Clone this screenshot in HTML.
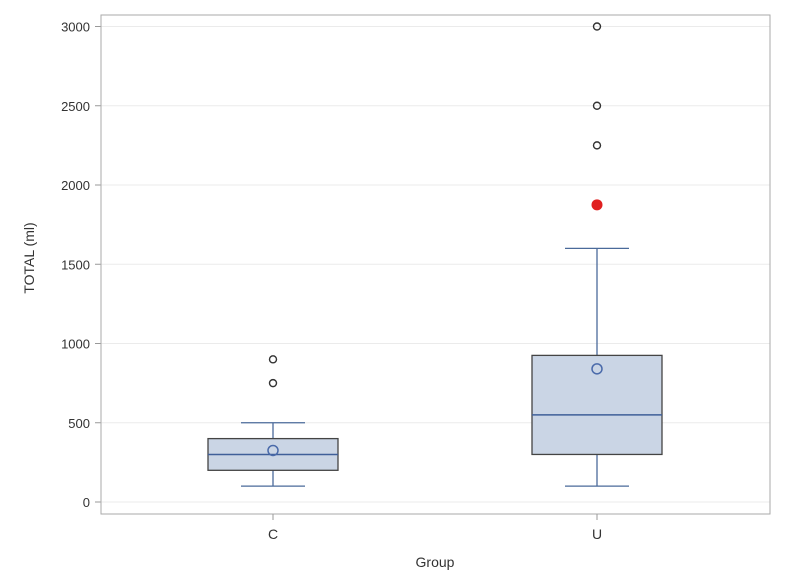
<!DOCTYPE html>
<html><head><meta charset="utf-8"><style>
body{margin:0;background:#fff;font-family:"Liberation Sans",sans-serif}
</style></head><body>
<svg id="chart" width="785" height="581" xmlns="http://www.w3.org/2000/svg" font-family="Liberation Sans, sans-serif"></svg>
<script>
const categories=["C","U"];
const mins=[100,100];
const q1s=[200,300];
const medians=[300,550];
const q3s=[400,925];
const maxs=[500,1600];
const means=[325,840];
const outliersC=[750,900];
const outliersU=[2250,2500,3000];
const highlighted=[null,1875];
const yTicks=[0,500,1000,1500,2000,2500,3000];

const svg=document.getElementById('chart');
const NS='http://www.w3.org/2000/svg';
const L=101,R=770,T=15,B=514;
const y=v=>502-(v/3000)*(502-26.5);
const xC=[273,597];
const boxHalf=65,capHalf=32;
function mk(tag,attrs,parent){const e=document.createElementNS(NS,tag);for(const k in attrs)e.setAttribute(k,attrs[k]);(parent||svg).appendChild(e);return e;}

yTicks.forEach(t=>{
  const g=mk('line',{x1:L,x2:R,y1:y(t),y2:y(t),stroke:'#ebebeb','stroke-width':1});
  
  
  const tk=mk('line',{x1:L-6,x2:L,y1:y(t),y2:y(t),stroke:'#999'});
  
  
  const tx=mk('text',{x:L-11,y:y(t)+5,'text-anchor':'end','font-size':13,fill:'#333'});
  tx.textContent=t;
  
  
});
const frame=mk('rect',{x:L,y:T,width:R-L,height:B-T,fill:'none',stroke:'#aaa'});



const outs=[outliersC,outliersU];
categories.forEach((c,i)=>{
  const x=xC[i];
  const g=mk('g',{});
  
  
  const blue='#4a6a9a';
  mk('line',{x1:x,x2:x,y1:y(mins[i]),y2:y(q1s[i]),stroke:blue,'stroke-width':1.3},g);
  mk('line',{x1:x,x2:x,y1:y(q3s[i]),y2:y(maxs[i]),stroke:blue,'stroke-width':1.3},g);
  mk('line',{x1:x-capHalf,x2:x+capHalf,y1:y(mins[i]),y2:y(mins[i]),stroke:blue,'stroke-width':1.3},g);
  mk('line',{x1:x-capHalf,x2:x+capHalf,y1:y(maxs[i]),y2:y(maxs[i]),stroke:blue,'stroke-width':1.3},g);
  mk('rect',{x:x-boxHalf,y:y(q3s[i]),width:2*boxHalf,height:y(q1s[i])-y(q3s[i]),fill:'#cad5e5',stroke:'#444','stroke-width':1.3},g);
  mk('line',{x1:x-boxHalf,x2:x+boxHalf,y1:y(medians[i]),y2:y(medians[i]),stroke:'#3f5f99','stroke-width':1.5},g);
  const m=mk('circle',{cx:x,cy:y(means[i]),r:5,fill:'none',stroke:'#4a6aaa','stroke-width':1.5},g);
  
  
  outs[i].forEach(v=>{
    const o=mk('circle',{cx:x,cy:y(v),r:3.5,fill:'none',stroke:'#333','stroke-width':1.4},g);
    
    
  });
  if(highlighted[i]!==null){
    const h=mk('circle',{cx:x,cy:y(highlighted[i]),r:5.5,fill:'#e02020'},g);
    
    
  }
  const tk=mk('line',{x1:x,x2:x,y1:B,y2:B+6,stroke:'#999'});
  
  
  const tx=mk('text',{x:x,y:B+25,'text-anchor':'middle','font-size':14,fill:'#333'});
  tx.textContent=c;
  
  
});
const xt=mk('text',{x:435,y:567,'text-anchor':'middle','font-size':14,fill:'#333'});
xt.textContent='Group';


const yt=mk('text',{x:0,y:0,'text-anchor':'middle','font-size':14,fill:'#333',transform:'translate(34,258) rotate(-90)'});
yt.textContent='TOTAL (ml)';


</script>
</body></html>
